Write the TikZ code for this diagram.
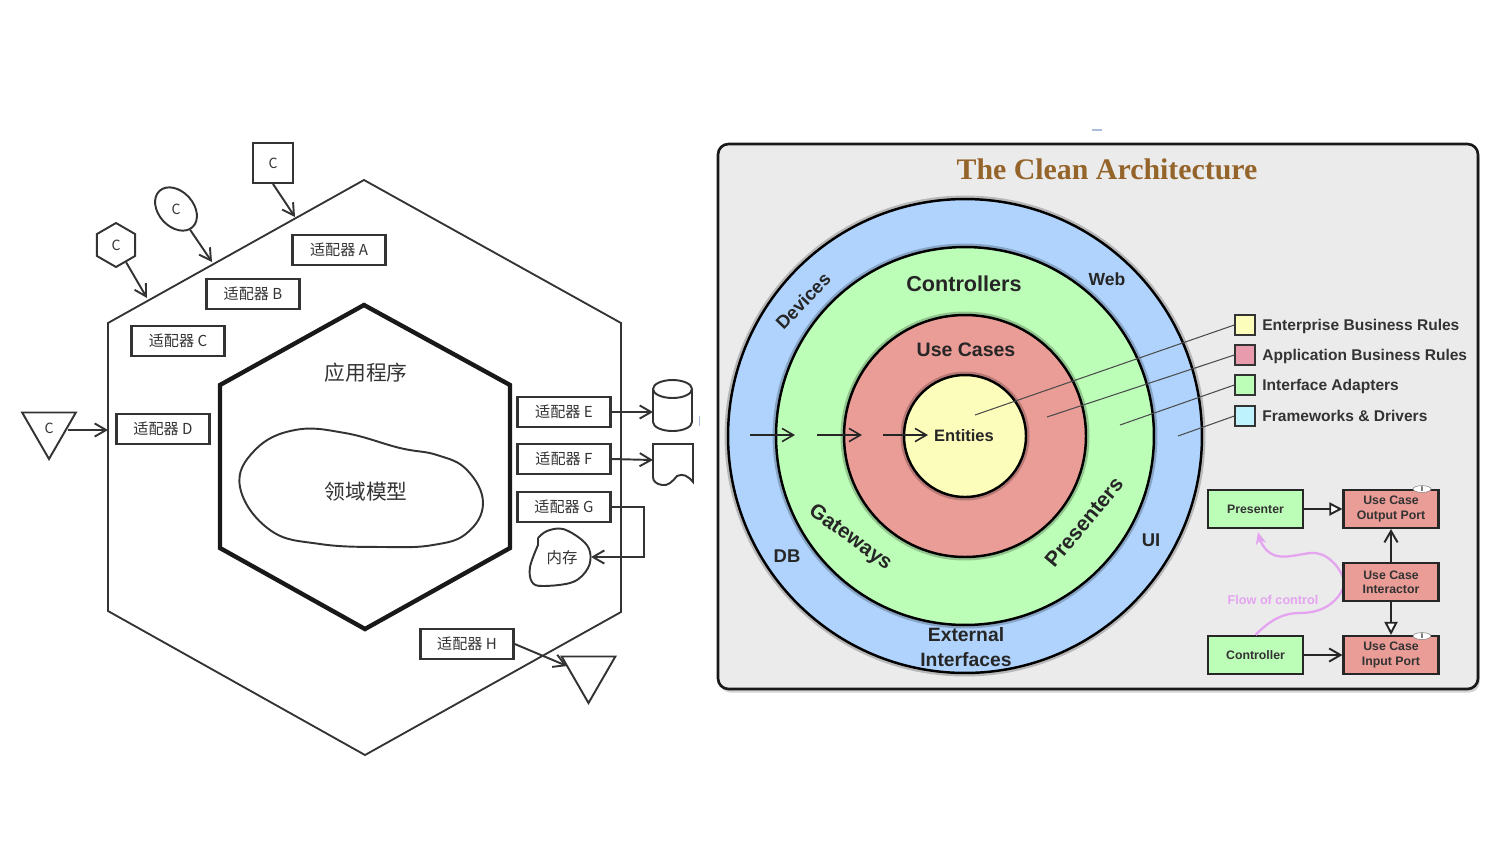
\documentclass[tikz,border=0pt]{standalone}
\usepackage{fontspec}
\setmainfont{Liberation Sans}
\newfontfamily\cjk{Noto Sans CJK SC}
\newfontfamily\titlefont{Liberation Serif}
\usepackage{tikz}
\usetikzlibrary{arrows.meta,shapes.geometric,shadows}

\definecolor{panelgray}{HTML}{EBEBEB}
\definecolor{ringblue}{HTML}{AFD3FC}
\definecolor{ringgreen}{HTML}{BCFDB7}
\definecolor{ringred}{HTML}{EA9C96}
\definecolor{ringyellow}{HTML}{FDFDBB}
\definecolor{keypink}{HTML}{E89BAC}
\definecolor{keycyan}{HTML}{BEF2FC}
\definecolor{titlebrown}{HTML}{94642A}
\definecolor{flowpink}{HTML}{E4A4F0}
\definecolor{inkgray}{HTML}{333333}
\definecolor{specblue}{HTML}{A9BEDD}

\tikzset{
  barb/.style={-{Straight Barb[length=6.5pt,width=7.5pt]}},
  opentip/.style={-{Triangle[open,fill=white,length=7.5pt,width=7.5pt]}},
  hexline/.style={draw=inkgray,line width=1.05pt,line join=miter},
  sketch/.style={draw=inkgray,line width=1.1pt},
  adapter/.style={draw=inkgray,line width=1.5pt,minimum width=1.86cm,minimum height=0.6cm,inner sep=0pt,text=inkgray,font=\cjk\fontsize{8.6pt}{10pt}\selectfont},
  letter/.style={text=inkgray,font=\cjk\fontsize{8pt}{10pt}\selectfont},
  bigword/.style={text=inkgray,font=\cjk\fontsize{11.8pt}{14pt}\selectfont},
  ring/.style={circle,draw=black,line width=1.4pt,inner sep=0pt,preaction={draw=black,opacity=.22,line width=4pt}},
  ringword/.style={font=\bfseries\fontsize{#1}{#1}\selectfont,text=black!85,align=center},
  ringword/.default={11pt},
  keybox/.style={draw=inkgray,line width=0.8pt,minimum size=0.4cm,inner sep=0pt},
  keyword/.style={anchor=west,yshift=-1.1pt,text height=6.4pt,text depth=1.9pt,font=\bfseries\fontsize{8.85pt}{10pt}\selectfont,text=black!80,inner sep=0pt},
  umlbox/.style={draw=black!85,line width=1.2pt,minimum width=1.9cm,minimum height=0.76cm,inner sep=0pt,align=center,font=\bfseries\fontsize{7pt}{8.2pt}\selectfont,text=black!80},
  leader/.style={draw=black!70,line width=0.6pt},
  portmark/.style={ellipse,draw=black!50,fill=white,line width=0.3pt,minimum width=0.36cm,minimum height=0.13cm,inner sep=0pt,font=\bfseries\fontsize{4pt}{4pt}\selectfont}
}

\begin{document}
\begin{tikzpicture}[x=0.02cm,y=-0.02cm,>=Stealth]
  \useasboundingbox (0,0) rectangle (1500,843);

  % left hexagon
  \draw[hexline] (364,180) -- (621,323) -- (621,612) -- (365,755) -- (108,611) -- (108,323) -- cycle;
  \draw[draw=black!90,line width=2.5pt,line join=miter] (364,305) -- (510,385) -- (510,548) -- (365,629) -- (220,548) -- (220,385) -- cycle;
  \node[bigword] (appWord) at (366,373) {应用程序};
  \draw[sketch] plot[smooth cycle,tension=0.7] coordinates {(240,487) (255,450) (295,430) (345,433) (400,448) (437,455) (467,470) (483,503) (467,533) (433,545) (385,547) (320,544) (270,530)};
  \node[bigword] (domainWord) at (366,492) {领域模型};

  \foreach \nm/\x/\y in {A/339/250,B/253/294,C/178/341,D/163/429,E/564/412,F/564/459,G/564/507,H/467/644}
    \node[adapter] (ad\nm) at (\x,\y) {适配器 \nm};

  % outside parts
  \node[sketch,minimum size=0.8cm,inner sep=0pt,letter] (sqC) at (273,163) {C};
  \node[sketch,ellipse,rotate=-48,minimum width=0.98cm,minimum height=0.7cm,inner sep=0pt] (ellC) at (176,209) {};
  \node[letter] (ellWord) at (176,209) {C};
  \node[sketch,regular polygon,regular polygon sides=6,shape border rotate=30,minimum size=0.88cm,inner sep=0pt,letter] (hexC) at (116,245) {C};
  \node[sketch,regular polygon,regular polygon sides=3,shape border rotate=180,minimum size=1.24cm,inner sep=0pt,letter] (triC) at (49,428) {C};
  \node[sketch,regular polygon,regular polygon sides=3,shape border rotate=180,minimum size=1.24cm,inner sep=0pt] (triH) at (588.5,672) {};

  \coordinate (dbIn) at (653,412);
  \draw[sketch] (672.5,389) ellipse[x radius=19.5,y radius=9];
  \draw[sketch] (653,389) -- (653,422) arc[start angle=180,end angle=0,x radius=19.5,y radius=9] -- (692,389);

  \coordinate (docIn) at (653,460);
  \draw[sketch] (653,444) -- (693,444) -- (693,482) .. controls (688,476) and (683,473) .. (677,476) .. controls (672,482) and (668,486) .. (662,485) .. controls (656,484) and (653,481) .. (653,477) -- cycle;

  \node[text=inkgray,font=\cjk\fontsize{8.8pt}{10pt}\selectfont] (memWord) at (562,558) {内存};
  \draw[sketch] plot[smooth,tension=0.6] coordinates {(538,538) (547,531) (563,529) (582,540) (590,552) (588,568) (573,582) (543,586) (532,582) (530,567) (538,545)} -- (538,538);

  \coordinate (hitA) at (295,217);
  \coordinate (hitB) at (212,262);
  \coordinate (hitC) at (147,298);
  \coordinate (hitD) at (108,430);
  \coordinate (hitH) at (567,666);
  \coordinate (memIn) at (591,557);
  \coordinate (bendG) at (644,507);

  \draw[barb,sketch] (sqC.south) -- (hitA);
  \draw[barb,sketch] (ellC) -- (hitB);
  \draw[barb,sketch] (hexC) -- (hitC);
  \draw[barb,sketch] (triC.east |- hitD) -- (hitD);
  \draw[barb,sketch] (adE.east) -- (dbIn);
  \draw[barb,sketch] (adF.east) -- (docIn);
  \draw[barb,sketch] (adG.east) -- (bendG) |- (memIn);
  \draw[barb,sketch] (adH.east) -- (hitH);

  \draw[specblue,line width=0.6pt] (1092,130) -- (1102,130);
  \draw[specblue,line width=0.6pt] (699.5,416) -- (699.5,426);

  % right panel
  \draw[draw=black!90,line width=1.5pt,fill=panelgray,rounded corners=6pt,drop shadow={opacity=.35,shadow xshift=1pt,shadow yshift=-2pt}] (718,144) rectangle (1478,689);
  \node[font=\titlefont\bfseries\fontsize{17pt}{18pt}\selectfont,text=titlebrown] (cleanTitle) at (1107,169) {The Clean Architecture};

  \node[ring,fill=ringblue,minimum size=9.48cm] (ringFrame) at (965,436) {};
  \node[ring,fill=ringgreen,minimum size=7.56cm] (ringAdapter) at (965,436) {};
  \node[ring,fill=ringred,minimum size=4.84cm] (ringCase) at (965,436) {};
  \node[ring,fill=ringyellow,minimum size=2.44cm] (ringEntity) at (965,436) {};

  \node[ringword=12.3pt] (wControllers) at (964,284) {Controllers};
  \node[ringword=11.1pt] (wCases) at (966,350) {Use Cases};
  \node[ringword=9.4pt] (wEntities) at (964,436) {Entities};
  \node[ringword=10.5pt,rotate=46] (wDevices) at (803,301) {Devices};
  \node[ringword=10pt] (wWeb) at (1107,279) {Web};
  \node[ringword=10.5pt] (wDB) at (787,556) {DB};
  \node[ringword=10.5pt] (wUI) at (1151,540) {UI};
  \node[ringword=11.8pt,rotate=-36] (wGateways) at (850,538) {Gateways};
  \node[ringword=12pt,rotate=50] (wPresenters) at (1084,522) {Presenters};
  \node[ringword=11pt,text depth=0pt] (wExternal) at (966,647) {External\\[3.5pt]Interfaces};

  \coordinate (inA) at (750,435);
  \coordinate (inB) at (795,435);
  \coordinate (inC) at (817,435);
  \coordinate (inD) at (862,435);
  \coordinate (inE) at (883,435);
  \coordinate (inF) at (928,435);
  \draw[barb,black!85,line width=0.9pt] (inA) -- (inB);
  \draw[barb,black!85,line width=0.9pt] (inC) -- (inD);
  \draw[barb,black!85,line width=0.9pt] (inE) -- (inF);

  % legend
  \foreach \nm/\y/\col/\lb in {Ent/325/ringyellow/Enterprise Business Rules,App/355/keypink/Application Business Rules,Ifc/385/ringgreen/Interface Adapters,Fwk/416/keycyan/Frameworks \& Drivers}{
    \node[keybox,fill=\col] (key\nm) at (1245,\y) {};
    \node[keyword] (word\nm) at (1262,\y) {\lb};
  }
  \coordinate (endEnt) at (975,415);
  \coordinate (endApp) at (1047,417);
  \coordinate (endIfc) at (1120,425);
  \coordinate (endFwk) at (1178,436);
  \draw[leader] (endEnt) -- (keyEnt.west);
  \draw[leader] (endApp) -- (keyApp.west);
  \draw[leader] (endIfc) -- (keyIfc.west);
  \draw[leader] (endFwk) -- (keyFwk.west);

  % flow of control
  \coordinate (flowEnd) at (1258,532);
  \node[umlbox,fill=ringgreen] (boxPresenter) at (1255.5,509) {Presenter};
  \node[umlbox,fill=ringgreen] (boxController) at (1255.5,655) {Controller};
  \draw[flowpink,line width=1.3pt,-{Stealth[length=7pt,width=6pt]}] (boxController.north) .. controls (1272,618) and (1285,613) .. (1300,613) .. controls (1325,613) and (1340,600) .. (1345,583) .. controls (1340,565) and (1325,551) .. (1310,553) .. controls (1295,555) and (1280,560) .. (1270,553) .. controls (1263,548) and (1260,540) .. (flowEnd);
  \node[font=\bfseries\fontsize{7.2pt}{8pt}\selectfont,text=flowpink] (flowWord) at (1273,600) {Flow of control};
  \node[umlbox,fill=ringred] (boxOutput) at (1391,509) {Use Case\\Output Port};
  \node[umlbox,fill=ringred] (boxInteractor) at (1391,582) {Use Case\\Interactor};
  \node[umlbox,fill=ringred] (boxInput) at (1391,655) {Use Case\\Input Port};
  \node[portmark] (markOut) at (1422,489) {I};
  \node[portmark] (markIn) at (1422,636) {I};

  \draw[opentip,black!85,line width=1.1pt] (boxPresenter) -- (boxOutput);
  \draw[barb,black!85,line width=1.1pt] (boxController) -- (boxInput);
  \draw[barb,black!85,line width=1.1pt] (boxInteractor) -- (boxOutput);
  \draw[opentip,black!85,line width=1.1pt] (boxInteractor) -- (boxInput);
\end{tikzpicture}
\end{document}
